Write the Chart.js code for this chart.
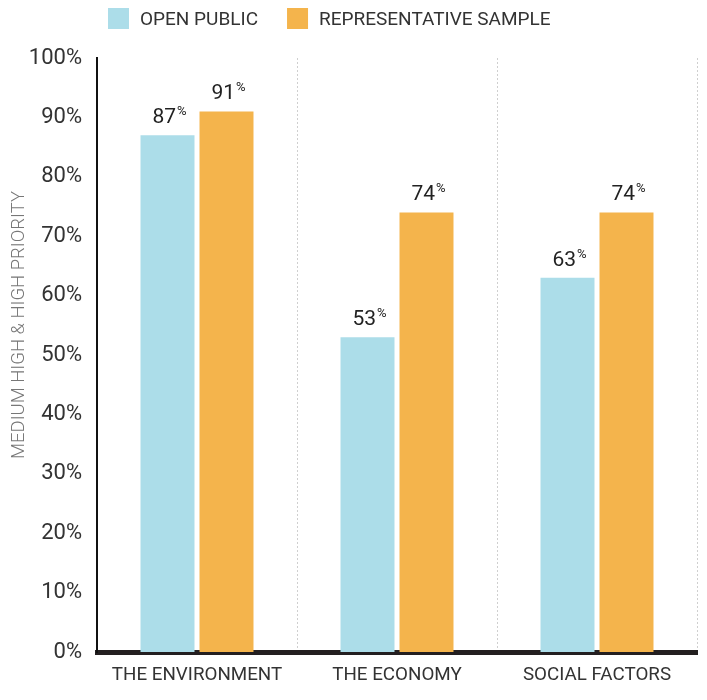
<!DOCTYPE html>
<html>
<head>
<meta charset="utf-8">
<script src="https://cdn.jsdelivr.net/npm/chart.js@4.4.0/dist/chart.umd.min.js"></script>
<style>
    html, body { margin: 0; padding: 0; background: #fff; }
    canvas { display: block; }
</style>
</head>
<body>
<canvas id="priorityChart" width="707" height="700"></canvas>
<script>
// Chart data
const categories = ['THE ENVIRONMENT', 'THE ECONOMY', 'SOCIAL FACTORS'];
const seriesNames = ['OPEN PUBLIC', 'REPRESENTATIVE SAMPLE'];
const openPublic = [87, 53, 63];
const representativeSample = [91, 74, 74];
const seriesColors = ['#acdde9', '#f4b44c'];
const axisTitle = 'MEDIUM HIGH & HIGH PRIORITY';

Chart.defaults.font.family = 'Roboto, sans-serif';

// Legend drawn across the top
const topLegend = {
    id: 'topLegend',
    afterDraw(chart) {
        const ctx = chart.ctx;
        let x = 108;
        ctx.save();
        ctx.font = '19px Roboto';
        ctx.textBaseline = 'middle';
        ctx.textAlign = 'left';
        chart.data.datasets.forEach(ds => {
            ctx.fillStyle = ds.backgroundColor;
            ctx.fillRect(x, 8, 21, 21);
            ctx.fillStyle = '#333';
            ctx.fillText(ds.label, x + 32, 20);
            x += 32 + ctx.measureText(ds.label).width + 29;
        });
        ctx.restore();
    }
};

// Value labels with a small raised percent sign
const valueLabels = {
    id: 'valueLabels',
    afterDatasetsDraw(chart) {
        const ctx = chart.ctx;
        ctx.save();
        ctx.fillStyle = '#222';
        ctx.textAlign = 'left';
        ctx.textBaseline = 'alphabetic';
        chart.data.datasets.forEach((ds, i) => {
            chart.getDatasetMeta(i).data.forEach((bar, j) => {
                const num = String(ds.data[j]);
                ctx.font = '21px Roboto';
                const w1 = ctx.measureText(num).width;
                ctx.font = '13px Roboto';
                const w2 = ctx.measureText('%').width;
                const left = bar.x - (w1 + 1 + w2) / 2 + 2;
                const base = bar.y - 12;
                ctx.font = '21px Roboto';
                ctx.fillText(num, left, base);
                ctx.font = '13px Roboto';
                ctx.fillText('%', left + w1 + 1, base - 8);
            });
        });
        ctx.restore();
    }
};

// Rotated y axis title
const sideTitle = {
    id: 'sideTitle',
    afterDraw(chart) {
        const ctx = chart.ctx;
        ctx.save();
        ctx.translate(19, 325);
        ctx.rotate(-Math.PI / 2);
        ctx.font = '300 18.5px Roboto';
        ctx.fillStyle = '#777';
        ctx.textAlign = 'center';
        ctx.textBaseline = 'middle';
        ctx.fillText(axisTitle, 0, 0);
        ctx.restore();
    }
};

const ctx = document.getElementById('priorityChart').getContext('2d');

new Chart(ctx, {
    type: 'bar',
    data: {
        labels: categories,
        datasets: [
            {
                label: seriesNames[0],
                data: openPublic,
                backgroundColor: seriesColors[0],
                barPercentage: 0.915,
                categoryPercentage: 0.59
            },
            {
                label: seriesNames[1],
                data: representativeSample,
                backgroundColor: seriesColors[1],
                barPercentage: 0.915,
                categoryPercentage: 0.59
            }
        ]
    },
    options: {
        responsive: false,
        animation: false,
        layout: {
            padding: { top: 58, right: 10, bottom: 0, left: 0 }
        },
        plugins: {
            legend: { display: false },
            tooltip: { enabled: false }
        },
        scales: {
            x: {
                z: 1,
                grid: {
                    offset: true,
                    drawTicks: false,
                    color: '#cfcfcf',
                    lineWidth: 1
                },
                border: {
                    width: 5,
                    color: '#231f20',
                    dash: [2, 2]
                },
                ticks: {
                    padding: 12,
                    color: '#333',
                    font: { size: 18.8 }
                },
                afterFit(scale) {
                    scale.height = 48;
                }
            },
            y: {
                min: 0,
                max: 100,
                grid: { display: false, drawTicks: false, tickLength: 0 },
                border: { width: 2, color: '#111' },
                ticks: {
                    stepSize: 10,
                    padding: 15,
                    color: '#333',
                    font: { size: 22 },
                    callback: function(value) {
                        return value + '%';
                    }
                },
                afterFit(scale) {
                    scale.width = 97;
                }
            }
        }
    },
    plugins: [topLegend, valueLabels, sideTitle]
});
</script>
</body>
</html>
